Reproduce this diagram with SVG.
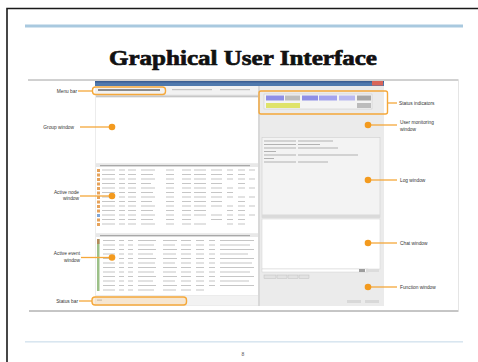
<svg xmlns="http://www.w3.org/2000/svg" width="478" height="362" viewBox="0 0 478 362">
<style>
.lbl{font-family:"Liberation Sans",Arial,sans-serif;font-size:4.8px;fill:#333}
.lblr{font-family:"Liberation Sans",Arial,sans-serif;font-size:4.8px;fill:#333;text-anchor:end}
.ln{stroke:#f5a83a;stroke-width:1.3;fill:none}
.dot{fill:#f39a1e}
.ol{fill:none;stroke:#f5a83a;stroke-width:1.4}
.tx{fill:#c4c4c4}
.txd{fill:#a8a8a8}
</style>
<defs>
<filter id="soft" x="-5%" y="-5%" width="110%" height="110%"><feGaussianBlur stdDeviation="0.5"/></filter>
</defs>
<rect width="478" height="362" fill="#ffffff"/>
<g id="slide">
<path d="M7 362 V8.5 H478" fill="none" stroke="#1a1a1a" stroke-width="1.6"/>
<rect x="25" y="24.5" width="438" height="3" fill="#a9c9df"/>
<rect x="25" y="341" width="438" height="1.6" fill="#d9e6f0"/>
<text x="243" y="356" font-family="Liberation Sans,Arial,sans-serif" font-size="5" fill="#555" text-anchor="middle">8</text>
</g>
<g id="title">
<text x="243" y="65" font-family="Liberation Serif,Times New Roman,serif" font-weight="bold" font-size="22" fill="#111" stroke="#111" stroke-width="0.7" text-anchor="middle" textLength="268" lengthAdjust="spacingAndGlyphs">Graphical User Interface</text>
</g>
<g id="frame">
<rect x="29" y="80" width="429.5" height="231" fill="#fff"/>
<line x1="28" y1="80" x2="458.5" y2="80" stroke="#8c8c8c" stroke-width="0.8"/>
<line x1="29" y1="311" x2="458.5" y2="311" stroke="#8c8c8c" stroke-width="1"/>
<line x1="458.5" y1="80" x2="458.5" y2="311" stroke="#dedede" stroke-width="0.8"/>
</g>
<g id="app" filter="url(#soft)">
<rect x="95" y="81" width="289" height="225" fill="#ececec"/>
<rect x="95" y="81" width="289" height="5" fill="#4f79ad"/>
<rect x="95" y="81" width="289" height="1.5" fill="#3a5f93"/>
<rect x="372" y="81" width="11" height="4.5" fill="#d9655a"/>
<rect x="95" y="86" width="289" height="8" fill="#f2f2f2"/>
<rect x="98" y="89" width="62" height="2" fill="#8a8a8a"/>
<rect x="172" y="89" width="40" height="1.2" class="tx"/>
<rect x="220" y="89" width="30" height="1.2" class="tx"/>
<rect x="96" y="95.5" width="162" height="1.4" class="tx"/>
<rect x="96" y="98" width="162" height="65" fill="#ffffff"/>
<rect x="96" y="164" width="162" height="3" fill="#e8e8e8"/>
<rect x="96" y="167" width="162" height="66" fill="#ffffff"/>
<rect x="96" y="234" width="162" height="3" fill="#e8e8e8"/>
<rect x="96" y="237" width="162" height="58" fill="#ffffff"/>
<rect x="96" y="296" width="162" height="9" fill="#f2f2f2"/>
<g id="nodetable">
<rect x="100" y="165" width="150" height="1.2" class="txd"/>
<rect x="97" y="169" width="3" height="3" fill="#e6a25a"/>
<rect x="97" y="173.5" width="3" height="3" fill="#e6a25a"/>
<rect x="97" y="178" width="3" height="3" fill="#e6a25a"/>
<rect x="97" y="182.5" width="3" height="3" fill="#e6a25a"/>
<rect x="97" y="187" width="3" height="3" fill="#e6a25a"/>
<rect x="97" y="191.5" width="3" height="3" fill="#e6a25a"/>
<rect x="97" y="196" width="3" height="3" fill="#e6a25a"/>
<rect x="97" y="200.5" width="3" height="3" fill="#e6a25a"/>
<rect x="97" y="205" width="3" height="3" fill="#e6a25a"/>
<rect x="97" y="209.5" width="3" height="3" fill="#e6a25a"/>
<rect x="97" y="214" width="3" height="3" fill="#7fa6d8"/>
<rect x="97" y="218.5" width="3" height="3" fill="#e6a25a"/>
<rect x="97" y="223" width="3" height="3" fill="#e6a25a"/>
<path d="M102 170h13M119 170h6M128 170h8M141 170h14M166 170h8M182 170h9M194 170h12M211 170h11M227 170h6M238 170h7M249 170h6
M102 174.5h13M119 174.5h6M128 174.5h8M141 174.5h12M166 174.5h8M182 174.5h9M194 174.5h12M211 174.5h11M227 174.5h6M238 174.5h7
M102 179h13M119 179h6M128 179h8M141 179h14M166 179h8M182 179h9M194 179h12M211 179h11M227 179h6M238 179h7M249 179h6
M102 183.5h13M119 183.5h6M128 183.5h8M141 183.5h10M166 183.5h8M182 183.5h9M194 183.5h12M211 183.5h11M238 183.5h7
M102 188h13M119 188h6M128 188h8M141 188h14M166 188h8M182 188h9M194 188h12M211 188h11M227 188h6M238 188h7M249 188h6
M102 192.5h13M119 192.5h6M128 192.5h8M141 192.5h12M166 192.5h8M182 192.5h9M194 192.5h12M211 192.5h11M227 192.5h6
M102 197h13M119 197h6M128 197h8M141 197h14M166 197h8M182 197h9M194 197h12M211 197h11M227 197h6M238 197h7M249 197h6
M102 201.5h13M119 201.5h6M128 201.5h8M141 201.5h11M166 201.5h8M182 201.5h9M194 201.5h12M211 201.5h11M238 201.5h7
M102 206h13M119 206h6M128 206h8M141 206h14M166 206h8M182 206h9M194 206h12M211 206h11M227 206h6M238 206h7M249 206h6
M102 210.5h13M119 210.5h6M128 210.5h8M141 210.5h12M166 210.5h8M182 210.5h9M194 210.5h12M227 210.5h6M238 210.5h7
M102 215h13M119 215h6M128 215h8M141 215h14M166 215h8M182 215h9M194 215h12M211 215h11M227 215h6M238 215h7M249 215h6
M102 219.5h13M119 219.5h6M128 219.5h8M141 219.5h12M166 219.5h8M182 219.5h9M211 219.5h11M227 219.5h6M238 219.5h7
M102 224h13M119 224h6M128 224h8M141 224h14M166 224h8M182 224h9M194 224h12M227 224h6M238 224h7" stroke="#c6c6c6" stroke-width="1.2" fill="none"/>
</g>
<g id="eventtable">
<rect x="100" y="235" width="150" height="1.2" class="txd"/>
<rect x="97" y="239" width="2.5" height="52" fill="#9cc088"/>
<rect x="97" y="239" width="2.5" height="5" fill="#b48a5a"/>
<path d="M103 240.5h12M119 240.5h5M128 240.5h5M138 240.5h18M163 240.5h14M181 240.5h10M196 240.5h8M209 240.5h6M220 240.5h34
M103 245h12M119 245h5M128 245h5M138 245h16M163 245h12M181 245h10M196 245h8M209 245h6M220 245h30
M103 249.5h12M119 249.5h5M128 249.5h5M138 249.5h18M163 249.5h14M181 249.5h10M196 249.5h8M209 249.5h6M220 249.5h34
M103 254h12M119 254h5M128 254h5M138 254h15M163 254h13M181 254h10M196 254h8M209 254h6M220 254h28
M103 258.5h12M119 258.5h5M128 258.5h5M138 258.5h18M163 258.5h14M181 258.5h10M196 258.5h8M209 258.5h6M220 258.5h34
M103 263h12M119 263h5M128 263h5M138 263h17M163 263h12M181 263h10M196 263h8M209 263h6M220 263h32
M103 267.5h12M119 267.5h5M128 267.5h5M138 267.5h18M163 267.5h14M181 267.5h10M196 267.5h8M209 267.5h6M220 267.5h34
M103 272h12M119 272h5M128 272h5M138 272h16M163 272h13M181 272h10M196 272h8M209 272h6M220 272h30
M103 276.5h12M119 276.5h5M128 276.5h5M138 276.5h18M163 276.5h14M181 276.5h10M196 276.5h8M209 276.5h6M220 276.5h34
M103 281h12M119 281h5M128 281h5M138 281h15M163 281h12M181 281h10M196 281h8M209 281h6M220 281h29
M103 285.5h12M119 285.5h5M128 285.5h5M138 285.5h18M163 285.5h14M181 285.5h10M196 285.5h8M209 285.5h6M220 285.5h34
M103 290h12M119 290h5M128 290h5M138 290h16M163 290h13M181 290h10M196 290h8" stroke="#c6c6c6" stroke-width="1.2" fill="none"/>
</g>
<rect x="97" y="299.5" width="5" height="1.3" class="txd"/>
<rect x="258" y="86" width="2" height="220" fill="#d8d8d8"/>
<rect x="260" y="86" width="124" height="220" fill="#ebebeb"/>
<g id="indicators">
<rect x="264" y="94" width="108" height="15" fill="#f4f4f4" stroke="#c8c8c8" stroke-width="0.5"/>
<rect x="266" y="95.5" width="18" height="5" fill="#8f8fe6"/>
<rect x="285" y="95.5" width="15" height="5" fill="#bdbdbd"/>
<rect x="302" y="95.5" width="16" height="5" fill="#8f8fe6"/>
<rect x="319" y="95.5" width="18" height="5" fill="#a3a3ee"/>
<rect x="339" y="95.5" width="16" height="5" fill="#b9b9f0"/>
<rect x="357" y="95.5" width="14" height="5" fill="#a7a7a7"/>
<rect x="266" y="103" width="34" height="5" fill="#dfe36a"/>
<rect x="357" y="103" width="14" height="5" fill="#bcbcbc"/>
</g>
<rect x="262" y="137.5" width="118" height="80" fill="#f3f3f3" stroke="#cfcfcf" stroke-width="0.6"/>
<path d="M264 141h32M298 141h35M264 144.5h32M298 144.5h22M264 148h32M298 148h40M264 151.5h12M264 155h32M298 155h60M264 158.5h10M264 162h32M298 162h30" stroke="#b2b2b2" stroke-width="1.1" fill="none"/>
<rect x="262" y="214.5" width="118" height="3" fill="#dadada"/>
<rect x="262" y="219" width="118" height="50" fill="#ffffff" stroke="#d2d2d2" stroke-width="0.5"/>
<rect x="262" y="269" width="106" height="3" fill="#ffffff" stroke="#c8c8c8" stroke-width="0.4"/>
<rect x="359" y="269" width="6" height="3" fill="#9d9d9d"/>
<rect x="366" y="269" width="13" height="3" fill="#dcdcdc"/>
<rect x="264" y="275" width="12" height="3.5" fill="#e2e2e2" stroke="#b8b8b8" stroke-width="0.4"/>
<rect x="277" y="275" width="10" height="3.5" fill="#e2e2e2" stroke="#b8b8b8" stroke-width="0.4"/>
<rect x="288" y="275" width="10" height="3.5" fill="#e2e2e2" stroke="#b8b8b8" stroke-width="0.4"/>
<rect x="299" y="275" width="10" height="3.5" fill="#e2e2e2" stroke="#b8b8b8" stroke-width="0.4"/>
<rect x="347" y="300" width="14" height="3" fill="#d8d8d8"/>
<rect x="365" y="300" width="14" height="3" fill="#d8d8d8"/>
</g>
<g id="connectors">
<rect x="92.5" y="87" width="73" height="7.5" rx="3" class="ol"/>
<rect x="92" y="297" width="94.5" height="8" rx="3" fill="#f9d9b0" fill-opacity="0.5" stroke="#f5a83a" stroke-width="1.4"/>
<rect x="259" y="91" width="128.5" height="23" rx="2" class="ol"/>
<line x1="78" y1="91" x2="92.5" y2="91" class="ln"/>
<line x1="79" y1="301" x2="92" y2="301" class="ln"/>
<line x1="80" y1="127" x2="112" y2="127" class="ln"/>
<line x1="80" y1="196" x2="112" y2="196" class="ln"/>
<line x1="81" y1="257.5" x2="112" y2="257.5" class="ln"/>
<line x1="387.5" y1="103" x2="397" y2="103" class="ln"/>
<line x1="368" y1="125" x2="397" y2="125" class="ln"/>
<line x1="368" y1="180" x2="397" y2="180" class="ln"/>
<line x1="368" y1="243" x2="397" y2="243" class="ln"/>
<line x1="368" y1="287" x2="397" y2="287" class="ln"/>
</g>
<g id="menu-bar"><text x="77" y="92.5" class="lblr">Menu bar</text></g>
<g id="group-window"><circle cx="112" cy="127" r="3.3" class="dot"/><text x="74" y="128.5" class="lblr">Group window</text></g>
<g id="active-node-window"><circle cx="112" cy="196" r="3.3" class="dot"/><text x="79" y="193.5" class="lblr">Active node</text><text x="79" y="200" class="lblr">window</text></g>
<g id="active-event-window"><circle cx="112" cy="257.5" r="3.3" class="dot"/><text x="80" y="254.5" class="lblr">Active event</text><text x="80" y="262" class="lblr">window</text></g>
<g id="status-bar"><text x="78" y="302.5" class="lblr">Status bar</text></g>
<g id="status-indicators"><text x="399" y="104.5" class="lbl">Status indicators</text></g>
<g id="user-monitoring-window"><circle cx="368" cy="125" r="3.3" class="dot"/><text x="400" y="123.5" class="lbl">User monitoring</text><text x="400" y="130.5" class="lbl">window</text></g>
<g id="log-window"><circle cx="368" cy="180" r="3.3" class="dot"/><text x="400" y="181.5" class="lbl">Log window</text></g>
<g id="chat-window"><circle cx="368" cy="243" r="3.3" class="dot"/><text x="400" y="244.5" class="lbl">Chat window</text></g>
<g id="function-window"><circle cx="368" cy="287" r="3.3" class="dot"/><text x="400" y="288.5" class="lbl">Function window</text></g>
</svg>
